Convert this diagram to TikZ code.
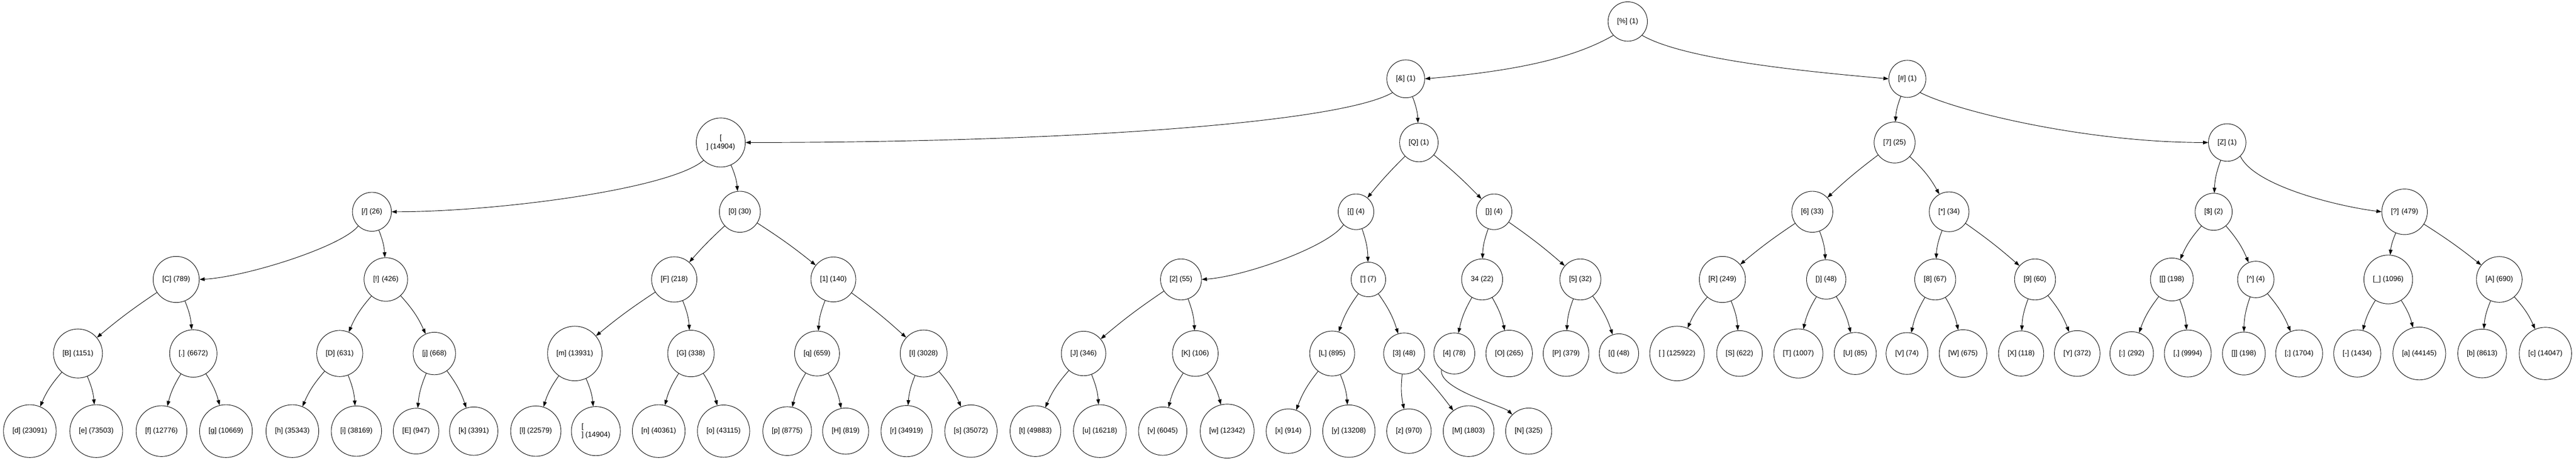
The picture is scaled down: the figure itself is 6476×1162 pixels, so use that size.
\documentclass[tikz,border=0pt]{standalone}
\usepackage{fontspec}
\setmainfont{Liberation Sans}
\usetikzlibrary{arrows.meta,shapes,calc}

\begin{document}
\begin{tikzpicture}[x=0.5pt,y=0.5pt]
		\tikzstyle{every node}=[font=\fontsize{9}{10.5}\selectfont]
		\tikzstyle{hnode}=[draw, circle, line width=0.6pt, inner xsep=11pt, inner ysep=1pt]
		\tikzstyle{treelink}=[line width=0.6pt, -{Triangle[length=6.5pt,width=4.6pt]}]
		\tikzstyle{lkid}=[bend right=9]
		\tikzstyle{rkid}=[bend left=9]
		\tikzstyle{lflat}=[bend right=3]
		\tikzstyle{rflat}=[bend left=3]
		\useasboundingbox (0,0) rectangle (6476,-1162);
		% rank 0 - 2
		\node [hnode] (pct) at (4092,-54) {[\%] (1)};
		\node [hnode] (amp) at (3534,-198) {[\&] (1)};
		\node [hnode] (hash) at (4795,-198) {[\#] (1)};
		\node [hnode, align=center] (nlA) at (1812,-358) {[\\] (14904)};
		\node [hnode] (Q) at (3567,-358) {[Q] (1)};
		\node [hnode] (sev) at (4763,-358) {[7] (25)};
		\node [hnode] (Z) at (5599,-358) {[Z] (1)};
		% rank 3
		\node [hnode] (slash) at (935,-532) {[/] (26)};
		\node [hnode] (zero) at (1860,-532) {[0] (30)};
		\node [hnode] (lbr) at (3409,-532) {[\{] (4)};
		\node [hnode] (rbr) at (3756,-532) {[\}] (4)};
		\node [hnode] (six) at (4556,-532) {[6] (33)};
		\node [hnode] (star) at (4900,-532) {[*] (34)};
		\node [hnode] (dollar) at (5565,-532) {[\$] (2)};
		\node [hnode] (quest) at (6045,-532) {[?] (479)};
		% rank 4
		\node [hnode] (C) at (443,-702) {[C] (789)};
		\node [hnode] (excl) at (970,-702) {[!] (426)};
		\node [hnode] (F) at (1695,-702) {[F] (218)};
		\node [hnode] (one) at (2095,-702) {[1] (140)};
		\node [hnode] (two) at (2969,-702) {[2] (55)};
		\node [hnode] (apos) at (3440,-702) {[\textquotesingle] (7)};
		\node [hnode] (dq) at (3726,-702) {34 (22)};
		\node [hnode] (five) at (3973,-702) {[5] (32)};
		\node [hnode] (R) at (4330,-702) {[R] (249)};
		\node [hnode] (rpar) at (4591,-702) {[)] (48)};
		\node [hnode] (eight) at (4865,-702) {[8] (67)};
		\node [hnode] (nine) at (5116,-702) {[9] (60)};
		\node [hnode] (lsq) at (5460,-702) {[[] (198)};
		\node [hnode] (caret) at (5671,-702) {[\textasciicircum] (4)};
		\node [hnode] (under) at (6004,-702) {[\_] (1096)};
		\node [hnode] (A) at (6283,-702) {[A] (690)};
		% rank 5
		\node [hnode] (B) at (196,-888) {[B] (1151)};
		\node [hnode] (dot) at (486,-888) {[.] (6672)};
		\node [hnode] (D) at (854,-888) {[D] (631)};
		\node [hnode] (j) at (1092,-888) {[j] (668)};
		\node [hnode] (m) at (1445,-888) {[m] (13931)};
		\node [hnode] (G) at (1737,-888) {[G] (338)};
		\node [hnode] (q) at (2054,-888) {[q] (659)};
		\node [hnode] (I) at (2322,-888) {[I] (3028)};
		\node [hnode] (J) at (2724,-888) {[J] (346)};
		\node [hnode] (K) at (3005,-888) {[K] (106)};
		\node [hnode] (L) at (3349,-888) {[L] (895)};
		\node [hnode] (three) at (3530,-888) {[3] (48)};
		\node [hnode] (four) at (3656,-888) {[4] (78)};
		\node [hnode] (O) at (3794,-888) {[O] (265)};
		\node [hnode] (P) at (3937,-888) {[P] (379)};
		\node [hnode] (lpar) at (4070,-888) {[(] (48)};
		\node [hnode] (spc) at (4216,-888) {[\ ] (125922)};
		\node [hnode] (S) at (4373,-888) {[S] (622)};
		\node [hnode] (T) at (4521,-888) {[T] (1007)};
		\node [hnode] (U) at (4664,-888) {[U] (85)};
		\node [hnode] (V) at (4794,-888) {[V] (74)};
		\node [hnode] (W) at (4935,-888) {[W] (675)};
		\node [hnode] (X) at (5081,-888) {[X] (118)};
		\node [hnode] (Y) at (5222,-888) {[Y] (372)};
		\node [hnode] (colon) at (5359,-888) {[:] (292)};
		\node [hnode] (comma) at (5500,-888) {[,] (9994)};
		\node [hnode] (rsq) at (5641,-888) {[]] (198)};
		\node [hnode] (semi) at (5780,-888) {[;] (1704)};
		\node [hnode] (minus) at (5926,-888) {[-] (1434)};
		\node [hnode] (a) at (6082,-888) {[a] (44145)};
		\node [hnode] (b) at (6240,-888) {[b] (8613)};
		\node [hnode] (c) at (6399,-888) {[c] (14047)};
		% rank 6
		\node [hnode] (d) at (75,-1083) {[d] (23091)};
		\node [hnode] (e) at (242,-1083) {[e] (73503)};
		\node [hnode] (f) at (406,-1083) {[f] (12776)};
		\node [hnode] (g) at (568,-1083) {[g] (10669)};
		\node [hnode] (h) at (735,-1083) {[h] (35343)};
		\node [hnode] (i) at (896,-1083) {[i] (38169)};
		\node [hnode] (E) at (1046,-1083) {[E] (947)};
		\node [hnode] (k) at (1191,-1083) {[k] (3391)};
		\node [hnode] (l) at (1347,-1083) {[l] (22579)};
		\node [hnode, align=left] (nlB) at (1498,-1083) {[\\] (14904)};
		\node [hnode] (n) at (1656,-1083) {[n] (40361)};
		\node [hnode] (o) at (1819,-1083) {[o] (43115)};
		\node [hnode] (p) at (1979,-1083) {[p] (8775)};
		\node [hnode] (H) at (2126,-1083) {[H] (819)};
		\node [hnode] (r) at (2279,-1083) {[r] (34919)};
		\node [hnode] (s) at (2441,-1083) {[s] (35072)};
		\node [hnode] (t) at (2603,-1083) {[t] (49883)};
		\node [hnode] (u) at (2765,-1083) {[u] (16218)};
		\node [hnode] (v) at (2923,-1083) {[v] (6045)};
		\node [hnode] (w) at (3085,-1083) {[w] (12342)};
		\node [hnode] (x) at (3239,-1083) {[x] (914)};
		\node [hnode] (y) at (3391,-1083) {[y] (13208)};
		\node [hnode] (z) at (3542,-1083) {[z] (970)};
		\node [hnode] (M) at (3692,-1083) {[M] (1803)};
		\node [hnode] (N) at (3843,-1083) {[N] (325)};
		% long curved links
		\draw [treelink] (pct.-136) .. controls +(-150:120) and +(5:220) .. (amp.east);
		\draw [treelink] (pct.-44) .. controls +(-30:120) and +(175:220) .. (hash.west);
		\draw [treelink] (amp.-134) .. controls +(-150:150) and +(0:820) .. (nlA.east);
		\draw [treelink] (hash.-47) .. controls +(-27:105) and +(180:304) .. (Z.west);
		\draw [treelink] (nlA.-134) .. controls +(-139:110) and +(0:266) .. (slash.east);
		\draw [treelink] (slash.-134) .. controls +(-128:66) and +(3:116) .. (C.east);
		\draw [treelink] (lbr.-134) .. controls +(-124:66) and +(4:109) .. (two.east);
		\draw [treelink] (Z.-46) .. controls +(-65:83) and +(173:108) .. (quest.west);
		\draw [treelink] (four.-128) .. controls +(-100:49) and +(135:88) .. (N);
		% rank 1 - 3
		\draw [treelink] (amp) to[rkid] (Q);
		\draw [treelink] (hash) to[lkid] (sev);
		\draw [treelink] (nlA) to[rkid] (zero);
		\draw [treelink] (Q) to[lflat] (lbr);
		\draw [treelink] (Q) to[rflat] (rbr);
		\draw [treelink] (sev) to[lflat] (six);
		\draw [treelink] (sev) to[rkid] (star);
		\draw [treelink] (Z) to[lkid] (dollar);
		% rank 3 - 4
		\draw [treelink] (slash) to[rkid] (excl);
		\draw [treelink] (zero) to[lflat] (F);
		\draw [treelink] (zero) to[rflat] (one);
		\draw [treelink] (lbr) to[rkid] (apos);
		\draw [treelink] (rbr) to[lkid] (dq);
		\draw [treelink] (rbr) to[rflat] (five);
		\draw [treelink] (six) to[lflat] (R);
		\draw [treelink] (six) to[rkid] (rpar);
		\draw [treelink] (star) to[lkid] (eight);
		\draw [treelink] (star) to[rflat] (nine);
		\draw [treelink] (dollar) to[lkid] (lsq);
		\draw [treelink] (dollar) to[rkid] (caret);
		\draw [treelink] (quest) to[lkid] (under);
		\draw [treelink] (quest) to[rflat] (A);
		% rank 4 - 5
		\draw [treelink] (C) to[lflat] (B);
		\draw [treelink] (C) to[rkid] (dot);
		\draw [treelink] (excl) to[lkid] (D);
		\draw [treelink] (excl) to[rkid] (j);
		\draw [treelink] (F) to[lflat] (m);
		\draw [treelink] (F) to[rkid] (G);
		\draw [treelink] (one) to[lkid] (q);
		\draw [treelink] (one) to[rflat] (I);
		\draw [treelink] (two) to[lflat] (J);
		\draw [treelink] (two) to[rkid] (K);
		\draw [treelink] (apos) to[lkid] (L);
		\draw [treelink] (apos) to[rkid] (three);
		\draw [treelink] (dq) to[lkid] (four);
		\draw [treelink] (dq) to[rkid] (O);
		\draw [treelink] (five) to[lkid] (P);
		\draw [treelink] (five) to[rkid] (lpar);
		\draw [treelink] (R) to[lkid] (spc);
		\draw [treelink] (R) to[rkid] (S);
		\draw [treelink] (rpar) to[lkid] (T);
		\draw [treelink] (rpar) to[rkid] (U);
		\draw [treelink] (eight) to[lkid] (V);
		\draw [treelink] (eight) to[rkid] (W);
		\draw [treelink] (nine) to[lkid] (X);
		\draw [treelink] (nine) to[rkid] (Y);
		\draw [treelink] (lsq) to[lkid] (colon);
		\draw [treelink] (lsq) to[rkid] (comma);
		\draw [treelink] (caret) to[lkid] (rsq);
		\draw [treelink] (caret) to[rkid] (semi);
		\draw [treelink] (under) to[lkid] (minus);
		\draw [treelink] (under) to[rkid] (a);
		\draw [treelink] (A) to[lkid] (b);
		\draw [treelink] (A) to[rkid] (c);
		% rank 5 - 6
		\draw [treelink] (B) to[lkid] (d);
		\draw [treelink] (B) to[rkid] (e);
		\draw [treelink] (dot) to[lkid] (f);
		\draw [treelink] (dot) to[rkid] (g);
		\draw [treelink] (D) to[lkid] (h);
		\draw [treelink] (D) to[rkid] (i);
		\draw [treelink] (j) to[lkid] (E);
		\draw [treelink] (j) to[rkid] (k);
		\draw [treelink] (m) to[lkid] (l);
		\draw [treelink] (m) to[rkid] (nlB);
		\draw [treelink] (G) to[lkid] (n);
		\draw [treelink] (G) to[rkid] (o);
		\draw [treelink] (q) to[lkid] (p);
		\draw [treelink] (q) to[rkid] (H);
		\draw [treelink] (I) to[lkid] (r);
		\draw [treelink] (I) to[rkid] (s);
		\draw [treelink] (J) to[lkid] (t);
		\draw [treelink] (J) to[rkid] (u);
		\draw [treelink] (K) to[lkid] (v);
		\draw [treelink] (K) to[rkid] (w);
		\draw [treelink] (L) to[lkid] (x);
		\draw [treelink] (L) to[rkid] (y);
		\draw [treelink] (three) to[lkid] (z);
		\draw [treelink] (three) to[rflat] (M);
	\end{tikzpicture}
\end{document}
